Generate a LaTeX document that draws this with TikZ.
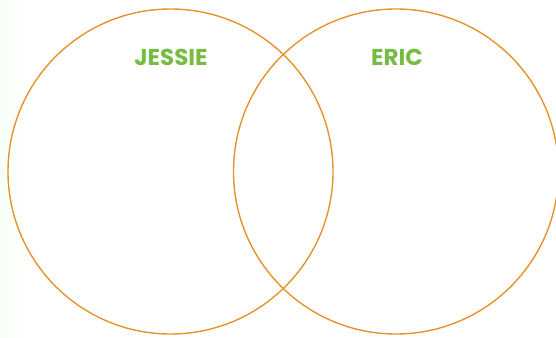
\documentclass[tikz,border=0pt]{standalone}
\usepackage{fontspec}
\setmainfont{Poppins}
\usetikzlibrary{positioning}
\definecolor{ringorange}{HTML}{E8922C}
\definecolor{namegreen}{HTML}{76BC43}
\tikzstyle{ring}=[draw=ringorange, line width=1.4pt, circle, minimum size=325pt, inner sep=0pt]
\tikzstyle{setlabel}=[text=namegreen, font=\fontsize{23}{23}\selectfont\bfseries]
\begin{document}
\begin{tikzpicture}[x=1pt, y=-1pt]
            \useasboundingbox (0,0) rectangle (556,337);
            \shade[left color=green!3!white, right color=white] (0,0) rectangle (30,337);
            \node[ring] (Jring) at (170.5,171.5) {};
            \node[ring] (Ering) at (396,171.5) {};
            \node[setlabel] (Jessie) at (171,57) {JESSIE};
            \node[setlabel] (Eric) at (397,57) {ERIC};
        \end{tikzpicture}
\end{document}
